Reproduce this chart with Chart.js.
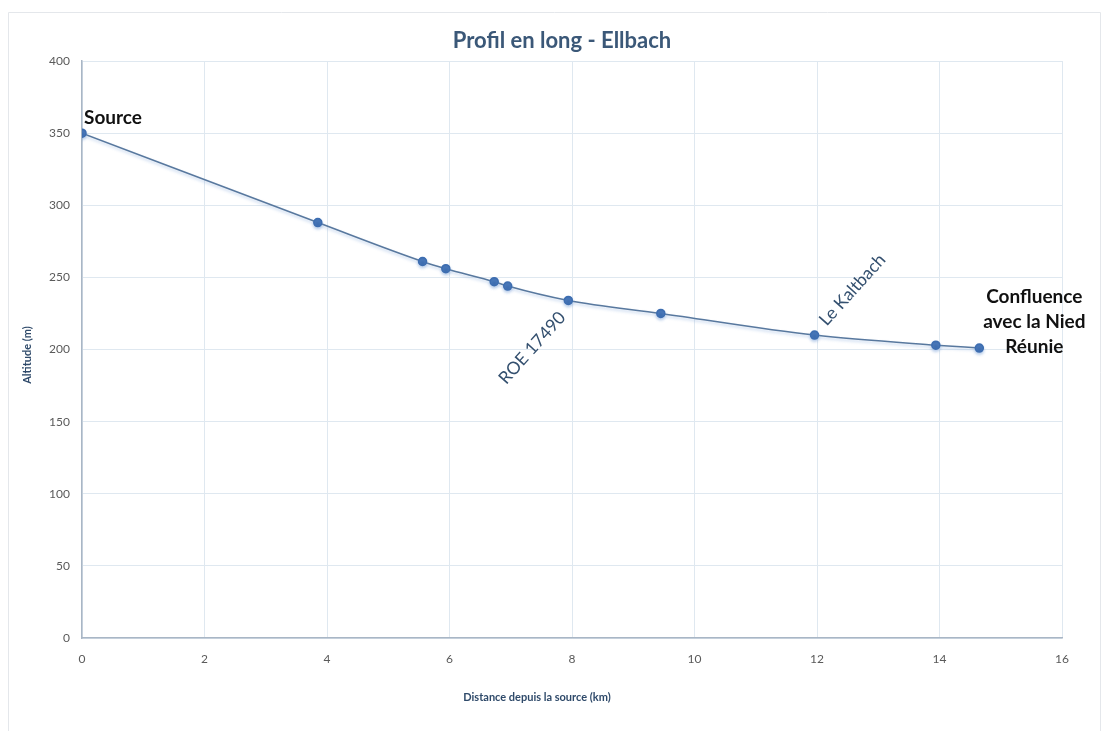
<!DOCTYPE html>
<html>
<head>
<meta charset="utf-8">
<script src="https://cdn.jsdelivr.net/npm/chart.js@4.4.1/dist/chart.umd.min.js"></script>
<style>
  html, body { margin: 0; padding: 0; background: #ffffff; }
  #wrap { width: 1102px; height: 731px; position: relative; }
</style>
</head>
<body>
<div id="wrap"><canvas id="profil" width="1102" height="731"></canvas></div>
<script>
// Longitudinal profile of the Ellbach: distance from source (km) vs altitude (m)
const distanceKm = [0, 3.85, 5.56, 5.94, 6.73, 6.95, 7.94, 9.45, 11.96, 13.94, 14.65];
const altitudeM  = [350, 288, 261, 256, 247, 244, 234, 225, 210, 203, 201];

const xTicks = [0, 2, 4, 6, 8, 10, 12, 14, 16];
const yTicks = [0, 50, 100, 150, 200, 250, 300, 350, 400];

const chartTitle = 'Profil en long - Ellbach';
const xTitle = 'Distance depuis la source (km)';
const yTitle = 'Altitude (m)';

// Named places along the course, attached to a point index
const placeNames  = ['Source', 'ROE 17490', 'Le Kaltbach', 'Confluence|avec la Nied|Réunie'];
const placeIndex  = [0, 6, 8, 10];

const FONT = 'Lato, "Open Sans", sans-serif';

const decorations = {
  id: 'decorations',
  beforeDraw(chart) {
    const ctx = chart.ctx;
    ctx.save();
    ctx.fillStyle = '#ffffff';
    ctx.fillRect(0, 0, chart.width, chart.height);
    ctx.strokeStyle = '#e4e7eb';
    ctx.lineWidth = 1;
    ctx.beginPath();
    ctx.moveTo(8.5, 740); ctx.lineTo(8.5, 12.5); ctx.lineTo(1100.5, 12.5); ctx.lineTo(1100.5, 740);
    ctx.stroke();
    ctx.restore();
  },
  beforeDatasetsDraw(chart) {
    const ctx = chart.ctx;
    ctx.save();
    ctx.shadowColor = 'rgba(120,160,215,0.45)';
    ctx.shadowBlur = 3;
    ctx.shadowOffsetY = 2;
  },
  afterDatasetsDraw(chart) {
    chart.ctx.restore();
  },
  afterDraw(chart) {
    const ctx = chart.ctx;
    const xs = chart.scales.x, ys = chart.scales.y;
    ctx.save();
    // title
    ctx.fillStyle = '#3b5878';
    ctx.font = 'bold 22px ' + FONT;
    ctx.textAlign = 'center';
    ctx.textBaseline = 'alphabetic';
    ctx.fillText(chartTitle, 562, 48);
    // axis titles
    ctx.fillStyle = '#2f4a6a';
    ctx.font = 'bold 11px ' + FONT;
    ctx.fillText(xTitle, 537, 701);
    ctx.save();
    ctx.translate(31, 355);
    ctx.rotate(-Math.PI / 2);
    ctx.fillText(yTitle, 0, 0);
    ctx.restore();

    const pt = i => ({ x: xs.getPixelForValue(distanceKm[placeIndex[i]]), y: ys.getPixelForValue(altitudeM[placeIndex[i]]) });

    // Source
    let p = pt(0);
    ctx.fillStyle = '#111111';
    ctx.font = 'bold 19px ' + FONT;
    ctx.textAlign = 'left';
    ctx.fillText(placeNames[0], p.x + 2, p.y - 9);

    // ROE 17490 (rotated, below-left of its point)
    p = pt(1);
    ctx.save();
    ctx.fillStyle = '#34506f';
    ctx.font = '17.5px ' + FONT;
    ctx.translate(p.x - 6, p.y + 14);
    ctx.rotate(-48 * Math.PI / 180);
    ctx.textAlign = 'right';
    ctx.textBaseline = 'middle';
    ctx.fillText(placeNames[1], 0, 0);
    ctx.restore();

    // Le Kaltbach (rotated, above its point)
    p = pt(2);
    ctx.save();
    ctx.fillStyle = '#34506f';
    ctx.font = '17.5px ' + FONT;
    ctx.translate(p.x + 8, p.y - 12);
    ctx.rotate(-48 * Math.PI / 180);
    ctx.textAlign = 'left';
    ctx.textBaseline = 'middle';
    ctx.fillText(placeNames[2], 0, 0);
    ctx.restore();

    // Confluence
    p = pt(3);
    ctx.fillStyle = '#111111';
    ctx.font = 'bold 19px ' + FONT;
    ctx.textAlign = 'center';
    ctx.textBaseline = 'alphabetic';
    placeNames[3].split('|').forEach((line, k) => {
      ctx.fillText(line, p.x + 55, p.y - 45 + k * 25);
    });
    ctx.restore();
  }
};

new Chart(document.getElementById('profil'), {
  type: 'line',
  data: {
    datasets: [{
      data: distanceKm.map((d, i) => ({ x: d, y: altitudeM[i] })),
      borderColor: '#58789e',
      borderWidth: 1.5,
      backgroundColor: '#3d6db0',
      pointBackgroundColor: '#3d6db0',
      pointBorderColor: '#3d6db0',
      pointRadius: 4,
      pointHoverRadius: 4,
      cubicInterpolationMode: 'monotone',
      fill: false
    }]
  },
  options: {
    responsive: false,
    animation: false,
    events: [],
    layout: { padding: { top: 61, right: 40, left: 0, bottom: 0 } },
    plugins: { legend: { display: false }, tooltip: { enabled: false }, title: { display: false } },
    scales: {
      x: {
        type: 'linear',
        min: 0, max: 16,
        afterBuildTicks(s) { s.ticks = xTicks.map(v => ({ value: v })); },
        afterFit(s) { s.height = 93; },
        grid: { color: '#dfe8f0', drawTicks: false, lineWidth: 1 },
        border: { color: '#a9b6c5', width: 1.5 },
        ticks: { color: '#5a5a5a', font: { family: FONT, size: 12 }, padding: 14, maxRotation: 0 }
      },
      y: {
        type: 'linear',
        min: 0, max: 400,
        afterBuildTicks(s) { s.ticks = yTicks.map(v => ({ value: v })); },
        afterFit(s) { s.width = 82; },
        grid: { color: '#dfe8f0', drawTicks: false, lineWidth: 1 },
        border: { color: '#a9b6c5', width: 1.5 },
        ticks: { color: '#5a5a5a', font: { family: FONT, size: 12 }, padding: 12 }
      }
    }
  },
  plugins: [decorations]
});
</script>
</body>
</html>
